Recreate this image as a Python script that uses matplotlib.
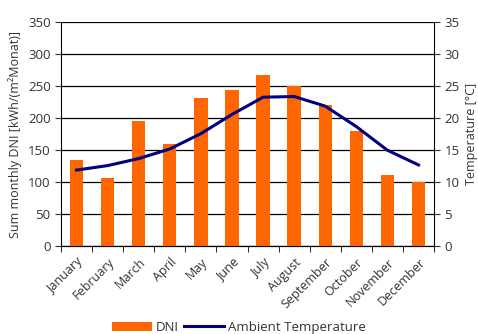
import numpy as np
import matplotlib.pyplot as plt

months = ["January", "February", "March", "April", "May", "June",
          "July", "August", "September", "October", "November", "December"]
dni = [135, 106, 195, 160, 232, 245, 268, 250, 220, 180, 112, 101]
temperature = [11.9, 12.6, 13.7, 15.2, 17.6, 20.6, 23.3, 23.4, 21.9, 18.7, 15.0, 12.7]

text_color = "#333333"
plt.rcParams["font.family"] = ["Open Sans", "DejaVu Sans"]
plt.rcParams["font.size"] = 9

fig = plt.figure(figsize=(4.78, 3.34), dpi=100)
ax = fig.add_axes([0.1276, 0.263, 0.7805, 0.670])
x = np.arange(len(months))

bars = ax.bar(x, dni, width=0.43, color="#FF6600", label="DNI", zorder=3)
ax.set_xlim(-0.5, len(months) - 0.5)
ax.set_ylim(0, 350)
ax.set_yticks(np.arange(0, 351, 50))
ax.grid(axis="y", color="black", linewidth=0.9, zorder=0)
ax.set_axisbelow(True)
ax.set_xticks(x)
ax.set_xticklabels(months, rotation=45, ha="right", rotation_mode="anchor",
                   color=text_color)
ax.set_xticks(np.arange(-0.5, len(months), 1), minor=True)
ax.tick_params(axis="x", which="major", length=0, pad=7)
ax.tick_params(axis="x", which="minor", length=4, color="black")
ax.tick_params(axis="y", length=4, colors=text_color, labelsize=9.5)
ax.set_ylabel("Sum monthly DNI [kWh/(m²Monat)]", color=text_color)
ax.spines["top"].set_visible(False)
ax.spines["right"].set_visible(False)

ax2 = ax.twinx()
line, = ax2.plot(x, temperature, color="#000080", linewidth=2.2,
                 label="Ambient Temperature", zorder=4)
ax2.set_ylim(0, 35)
ax2.set_yticks(np.arange(0, 36, 5))
ax2.tick_params(axis="y", length=4, colors=text_color, labelsize=9.5)
ax2.set_ylabel("Temperature [°C]", color=text_color)
ax2.spines["top"].set_visible(False)
ax2.spines["left"].set_visible(False)

fig.legend([bars, line], ["DNI", "Ambient Temperature"], loc="lower center",
           bbox_to_anchor=(0.5, -0.035), ncol=2, frameon=False, fontsize=9.5,
           handlelength=3.0, handletextpad=0.3, columnspacing=0.4,
           labelcolor=text_color)

fig.savefig("out.png", dpi=100)
